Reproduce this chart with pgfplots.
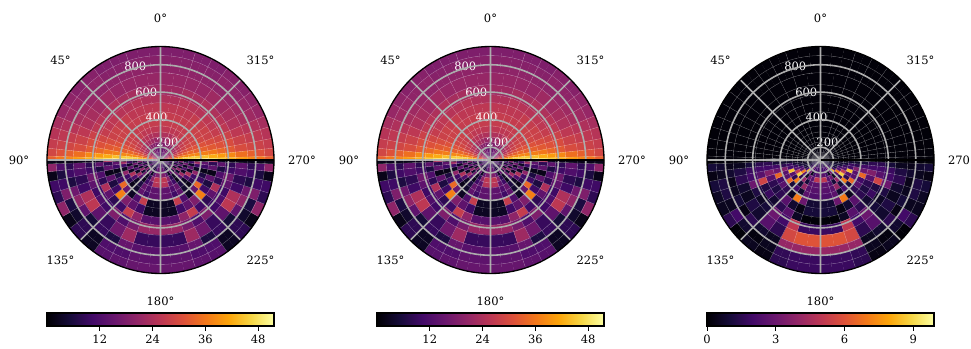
\documentclass[border=0pt]{standalone}
\usepackage{fontspec}
\setmainfont{DejaVu Serif}
\usepackage{pgfplots}
\usepackage{pgfplotstable}
\usepgfplotslibrary{polar}
\pgfplotsset{compat=1.18}

\definecolor{gridgray}{RGB}{172,172,172}

\pgfplotsset{
  colormap={inferno}{
    rgb255=(0,0,4) rgb255=(22,11,57) rgb255=(66,10,104) rgb255=(106,23,110)
    rgb255=(147,38,103) rgb255=(188,55,84) rgb255=(221,81,58) rgb255=(243,120,25)
    rgb255=(252,165,10) rgb255=(246,215,70) rgb255=(252,255,164)
  },
}

% rows run from the centre outwards, columns from the vertical axis to the horizontal one
\pgfplotstableread{
a0 a1 a2 a3 a4 a5 a6 a7 a8 a9 a10 a11
13 14 14 15 16 17 19 21 24 27 32 38
13 14 15 16 17 18 20 22 25 29 35 42
15 16 17 18 19 20 22 25 28 32 40 48
18 19 19 20 21 23 24 27 30 35 43 51
21 22 23 23 24 25 26 29 32 37 45 51
24 24 25 25 26 27 28 30 33 38 46 51
26 26 26 27 27 28 29 31 34 38 46 51
27 27 27 27 28 28 29 31 33 38 45 50
27 27 27 27 28 28 29 31 33 37 44 49
26 26 26 27 27 28 28 30 32 36 42 48
24 25 25 25 26 26 27 29 31 34 40 46
22 23 23 24 24 25 26 28 30 32 38 43
21 21 21 22 22 23 24 26 28 30 35 40
20 20 20 20 21 22 23 25 27 29 33 38
19 19 19 20 20 21 22 24 26 28 31 36
18 18 18 19 19 20 21 23 25 27 29 33
}\topA
\pgfplotstableread{
a0 a1 a2 a3 a4 a5 a6 a7 a8 a9 a10 a11
10 10 8 10 10 8 12 10 6 8 10 3
12 10 6 10 8 12 6 10 12 6 8 2
15 12 4 8 12 4 14 8 3 10 12 2
18 14 3 14 5 18 3 14 4 12 5 2
26 20 8 3 16 4 20 3 14 4 18 2
25 14 10 2 12 22 3 12 3 16 4 3
14 12 15 6 3 12 24 3 14 3 10 2
14 10 14 4 2 8 10 20 3 10 22 2
3 27 12 3 15 34 10 6 2 10 14 2
3 10 14 18 37 10 6 14 2 14 8 24
13 20 27 10 8 14 24 8 12 6 14 3
21 17 12 18 10 12 10 14 16 10 8 2
9 22 16 9 14 26 24 10 8 12 14 2
13 15 6 9 5 14 20 16 6 10 8 2
14 12 12 3 8 4 6 18 10 6 12 2
15 14 13 3 8 2 20 8 10 2 20 2
}\botA
\pgfplotstableread{
a0 a1 a2 a3 a4 a5 a6 a7 a8 a9 a10 a11
0.3 0.3 0.3 0.3 0.3 0.3 0.3 0.3 0.3 0.3 0.3 0.2
0.3 0.2 0.2 0.3 0.2 0.2 0.3 0.2 0.2 0.2 0.2 0.2
0.2 0.2 0.2 0.2 0.2 0.2 0.2 0.2 0.2 0.2 0.2 0.1
0.1 0.1 0.2 0.1 0.1 0.2 0.1 0.1 0.1 0.2 0.1 0.1
0.1 0.1 0.1 0.1 0.1 0.1 0.1 0.1 0.1 0.1 0.1 0.1
0.1 0.1 0.1 0.1 0.1 0.1 0.1 0.1 0.1 0.1 0.1 0.1
0.1 0.1 0.1 0.1 0.1 0.1 0.1 0.1 0.1 0.1 0.1 0.1
0.1 0.1 0.1 0.1 0.1 0.1 0.1 0.1 0.1 0.1 0.1 0.1
0.1 0.1 0.1 0.1 0.1 0.1 0.1 0.1 0.1 0.1 0.1 0.1
0.1 0.1 0.1 0.1 0.1 0.1 0.1 0.1 0.1 0.1 0.1 0.1
0.1 0.1 0.1 0.1 0.1 0.1 0.1 0.1 0.1 0.1 0.1 0.1
0.1 0.1 0.1 0.1 0.1 0.1 0.1 0.1 0.1 0.1 0.1 0.1
0.1 0.1 0.1 0.1 0.1 0.1 0.1 0.1 0.1 0.1 0.1 0.1
0.1 0.1 0.1 0.1 0.1 0.1 0.1 0.1 0.1 0.1 0.1 0.1
0.1 0.1 0.1 0.1 0.1 0.1 0.1 0.1 0.1 0.1 0.1 0.1
0.1 0.1 0.1 0.1 0.1 0.1 0.1 0.1 0.1 0.1 0.1 0.1
}\topB
\pgfplotstableread{
a0 a1 a2 a3 a4 a5 a6 a7 a8 a9 a10 a11
1.5 1.5 1 1.5 1.5 1 1 1 .5 .5 .4 .1
1.5 2 1 1 1.5 1.5 1 .8 .6 .5 .3 .1
2 2 2 3 2 1.5 1 1 .6 .4 .3 .1
2.5 2 .5 3 8.5 2 1 1 .8 .5 .3 .1
5 2.5 3 .5 2.5 7 2.5 2 1 .8 .4 .1
2.6 2.5 1 4 1.5 8.8 5 2.5 1.8 1 .4 .1
2.5 2.5 4 1 7 1.5 2.5 8.5 2 1.8 .8 .1
2.3 2.6 .8 2 1 6.5 2.5 2.5 3.5 1.5 .8 .1
.9 3 7 .5 1.5 2.5 2 6.5 3 2 1 .1
1 .3 .8 2.5 1.5 1.2 1.5 2.5 3.5 2 1.5 .2
.1 .6 2.5 1.5 .8 1.8 1.2 5.5 2.5 2 1.5 .2
1.8 5 2 3 1 .6 1.2 3 2 1.8 1 .1
6 5.6 1.5 2.5 .8 1.2 .5 .8 1.5 1.2 .5 .1
4 4 .5 .8 1.5 .3 1 .5 .4 .8 .4 .1
1.8 1.6 .5 .2 .8 2 .5 1.2 1.2 .5 .8 .1
1.8 1.5 .3 .5 .1 1.5 .5 .6 1 .3 1 .1
}\botB

% cell edges: radius in data units (with the 105 of the hole taken off) and angle off the vertical
\def\redges{{0,29,59,95,132,168,205,249,293,352,418,476,549,637,696,762,828}}
\def\aedges{{0,18,27,36,45,53,60,67,73,79,84,88,90}}

% turns one table into the four corners of every cell, wide cells split so the arcs stay round
\newcommand\quadrant[4]{%
  \gdef\coords{}%
  \foreach \i in {0,...,15} {%
    \foreach \j in {0,...,11} {%
      \pgfplotstablegetelem{\i}{a\j}\of{#1}%
      \let\val\pgfplotsretval
      \pgfmathsetmacro\rone{\redges[\i]}%
      \pgfmathsetmacro\rtwo{\redges[\i+1]}%
      \pgfmathsetmacro\aone{\aedges[\j]}%
      \pgfmathsetmacro\atwo{\aedges[\j+1]}%
      \pgfmathtruncatemacro\n{max(1,ceil((\atwo-\aone)*\rtwo/6000))}%
      \foreach \k in {1,...,\n} {%
        \pgfmathsetmacro\tone{#2+(#3)*(\aone+(\k-1)*(\atwo-\aone)/\n)}%
        \pgfmathsetmacro\ttwo{#2+(#3)*(\aone+\k*(\atwo-\aone)/\n)}%
        \xdef\coords{\coords (\tone,\rone) [\val] (\ttwo,\rone) [\val] (\ttwo,\rtwo) [\val] (\tone,\rtwo) [\val] }%
      }%
    }%
  }%
  \global\let#4\coords
}
\quadrant{\topA}{90}{1}{\tlA}
\quadrant{\topA}{90}{-1}{\trA}
\quadrant{\botA}{270}{-1}{\blA}
\quadrant{\botA}{270}{1}{\brA}
\quadrant{\topB}{90}{1}{\tlB}
\quadrant{\topB}{90}{-1}{\trB}
\quadrant{\botB}{270}{-1}{\blB}
\quadrant{\botB}{270}{1}{\brB}

\newcommand\cells[1]{%
  \edef\temp{\noexpand\addplot[patch, patch type=rectangle, shader=flat, point meta=explicit, line width=0.1pt] coordinates {#1};}%
  \temp
}

\pgfplotsset{
  panel/.style={
    scale only axis, width=227bp, height=227bp,
    colormap name=inferno,
    xmin=0, xmax=360, ymin=0, ymax=828,
    xtick={0,45,...,315}, ytick={95,295,495,695},
    xticklabels={}, yticklabels={},
    minor xtick={108,117,126,143,150,157,163,169,174,178,72,63,54,37,30,23,17,11,6,2,252,243,234,217,210,203,197,191,186,182,288,297,306,323,330,337,343,349,354,358},
    minor ytick={29,59,132,168,205,249,293,352,418,476,549,637,696,762},
    grid=both,
    major grid style={gridgray, line width=1.6bp},
    minor grid style={white, opacity=0.35, line width=0.3bp},
    major tick length=0pt, minor tick length=0pt,
    axis line style={black, line width=1.3bp},
    axis on top, clip=false,
  },
  bar/.style={
    scale only axis, width=227bp, height=13bp,
    colormap name=inferno,
    ymin=0, ymax=1, ytick=\empty,
    xtick pos=bottom, tick align=outside, major tick length=5bp,
    tick style={black, line width=1bp},
    axis line style={black, line width=1.2bp},
    axis on top,
    /pgf/number format/assume math mode=true,
  },
}

\newcommand\labels{%
  \node at (axis cs:90,1032) {0°};
  \node at (axis cs:135,1032) {45°};
  \node at (axis cs:180,1032) {90°};
  \node at (axis cs:225,1032) {135°};
  \node at (axis cs:270,1032) {180°};
  \node at (axis cs:315,1032) {225°};
  \node at (axis cs:0,1032) {270°};
  \node at (axis cs:45,1032) {315°};
  \node[white] at (axis cs:105,710) {800};
  \node[white] at (axis cs:101.8,508) {600};
  \node[white] at (axis cs:95.3,315) {400};
  \node[white] at (axis cs:69,141) {200};
}

\begin{document}
\fontsize{11.5bp}{13bp}\selectfont
\begin{tikzpicture}[every node/.append style={font=\fontsize{11.5bp}{13bp}\selectfont}]
\useasboundingbox (0,0) rectangle (971bp,349bp);

\begin{polaraxis}[panel, at={(47bp,75.5bp)}, anchor=south west, point meta min=0, point meta max=51.6]
\cells{\tlA}\cells{\trA}\cells{\blA}\cells{\brA}
\labels
\end{polaraxis}
\begin{polaraxis}[panel, at={(377bp,75.5bp)}, anchor=south west, point meta min=0, point meta max=51.6]
\cells{\tlA}\cells{\trA}\cells{\blA}\cells{\brA}
\labels
\end{polaraxis}
\begin{polaraxis}[panel, at={(707bp,75.5bp)}, anchor=south west, point meta min=0, point meta max=9.9]
\cells{\tlB}\cells{\trB}\cells{\blB}\cells{\brB}
\labels
\end{polaraxis}

\begin{axis}[bar, at={(47bp,23bp)}, anchor=south west, xmin=0, xmax=51.6, xtick={12,24,36,48}, point meta min=0, point meta max=51.6]
\addplot[patch, patch type=rectangle, shader=interp, point meta=explicit] coordinates {(0,0) [0] (51.6,0) [51.6] (51.6,1) [51.6] (0,1) [0]};
\end{axis}
\begin{axis}[bar, at={(377bp,23bp)}, anchor=south west, xmin=0, xmax=51.6, xtick={12,24,36,48}, point meta min=0, point meta max=51.6]
\addplot[patch, patch type=rectangle, shader=interp, point meta=explicit] coordinates {(0,0) [0] (51.6,0) [51.6] (51.6,1) [51.6] (0,1) [0]};
\end{axis}
\begin{axis}[bar, at={(707bp,23bp)}, anchor=south west, xmin=0, xmax=9.9, xtick={0,3,6,9}, point meta min=0, point meta max=9.9]
\addplot[patch, patch type=rectangle, shader=interp, point meta=explicit] coordinates {(0,0) [0] (9.9,0) [9.9] (9.9,1) [9.9] (0,1) [0]};
\end{axis}
\end{tikzpicture}
\end{document}
